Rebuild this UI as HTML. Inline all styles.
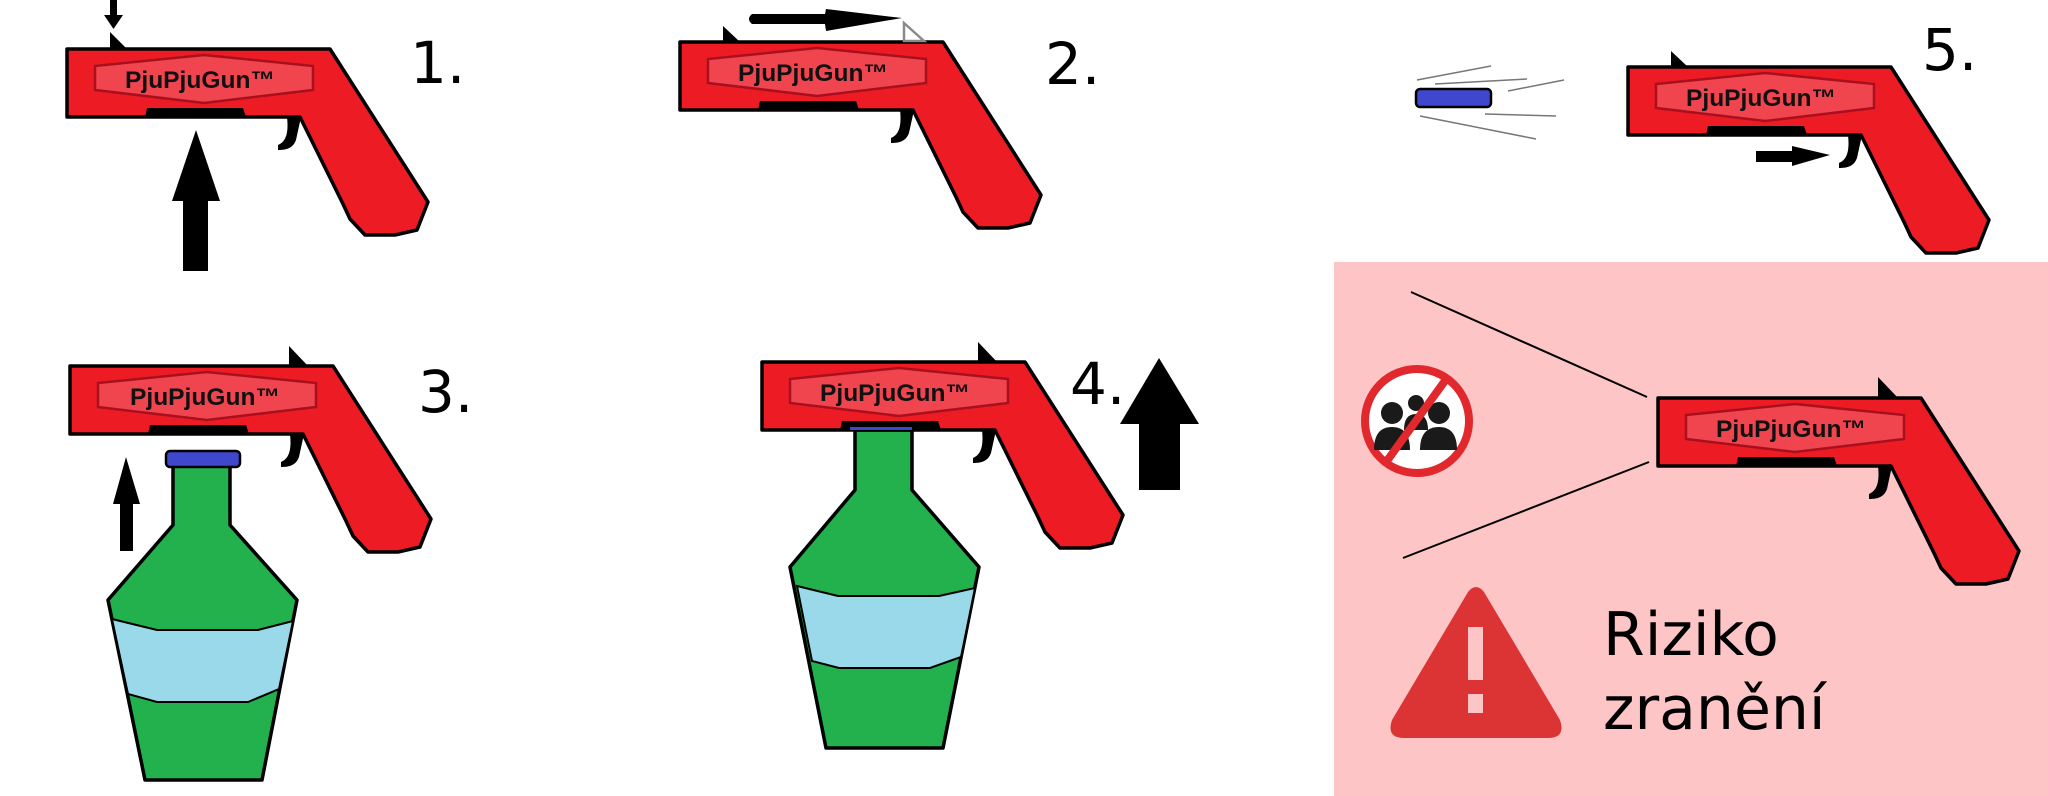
<!DOCTYPE html>
<html><head><meta charset="utf-8"><style>
html,body{margin:0;padding:0;background:#fff;}
svg{display:block;}
.lbl{font-family:"Liberation Sans",sans-serif;font-weight:bold;font-size:24px;fill:#111;}
.num{font-family:"DejaVu Sans","Liberation Sans",sans-serif;font-size:58px;fill:#000;}
</style></head><body>
<svg width="2048" height="796" viewBox="0 0 2048 796" xmlns="http://www.w3.org/2000/svg">
<defs>
<g id="gun">
<path d="M0,0 H263 L361,153 L350,181 L328,186 H298 L283,170 L276,155 L233,68 H0 Z" fill="#ed1c24" stroke="#000" stroke-width="3.5" stroke-linejoin="round"/>
<polygon points="28,17 137,6 246,17 246,41 137,54 28,41" fill="#f0444f" stroke="#a8101e" stroke-width="2.5"/>
<path d="M78,68 L80,59 H176 L179,68 Z" fill="#000"/>
<path d="M220,68 L234,68 L229,91 C226,99 220,101 211,101 L211,96 C218,93 222,86 220,68 Z" fill="#000"/>
</g>
</defs>

<rect x="1334" y="262" width="714" height="534" fill="#fdc5c5"/>

<!-- GUN 1 -->
<polygon points="110,32 110,49 127,49" fill="#000"/>
<use href="#gun" x="67" y="49"/>
<text class="lbl" x="200" y="88" text-anchor="middle" textLength="150" lengthAdjust="spacingAndGlyphs">PjuPjuGun™</text>
<rect x="110" y="0" width="7" height="16" fill="#000"/>
<polygon points="104,15 123,15 113.5,29" fill="#000"/>
<polygon points="196,130 220,201 172,201" fill="#000"/>
<rect x="183" y="200" width="25" height="71" fill="#000"/>
<text class="num" x="410" y="83">1.</text>

<!-- GUN 2 -->
<polygon points="723,26 723,42 740,42" fill="#000"/>
<use href="#gun" x="680" y="42"/>
<text class="lbl" x="813" y="81" text-anchor="middle" textLength="150" lengthAdjust="spacingAndGlyphs">PjuPjuGun™</text>
<path d="M752,14 H825 L826,9 L902,18 L826,31 L825,24 H752 Q746,19 752,14 Z" fill="#000"/>
<polygon points="904,23 904,41 924,41" fill="none" stroke="#8a8a8a" stroke-width="2.5"/>
<text class="num" x="1045" y="84">2.</text>

<!-- GUN 3 -->
<polygon points="289,346 289,366 308,366" fill="#000"/>
<use href="#gun" x="70" y="366"/>
<text class="lbl" x="205" y="405" text-anchor="middle" textLength="150" lengthAdjust="spacingAndGlyphs">PjuPjuGun™</text>
<path d="M173,466 V525 L108,600 L145,780 H262 L297,600 L230,525 V466 Z" fill="#22b14c" stroke="#000" stroke-width="3.5" stroke-linejoin="round"/>
<path d="M112,619 L157,630 H258 L293,621 L279,689 L248,702 H157 L128,694 Z" fill="#99d9ea" stroke="#000" stroke-width="2"/>
<rect x="166" y="451" width="74" height="16" rx="4" fill="#3f48cc" stroke="#000" stroke-width="2.5"/>
<polygon points="126,457 140,504 113,504" fill="#000"/>
<rect x="120" y="503" width="13" height="48" fill="#000"/>
<text class="num" x="418" y="412">3.</text>

<!-- GUN 4 -->
<path d="M855,430 V490 L790,567 L826,748 H943 L979,567 L912,490 V430 Z" fill="#22b14c" stroke="#000" stroke-width="3.5" stroke-linejoin="round"/>
<path d="M797,586 L838,596 H939 L975,588 L961,657 L930,668 H839 L812,661 Z" fill="#99d9ea" stroke="#000" stroke-width="2"/>
<polygon points="978,342 978,364 999,364" fill="#000"/>
<use href="#gun" x="762" y="362"/>
<rect x="850" y="427" width="62" height="3" fill="#3f48cc"/>
<text class="lbl" x="895" y="401" text-anchor="middle" textLength="150" lengthAdjust="spacingAndGlyphs">PjuPjuGun™</text>
<polygon points="1159,358 1199,424 1120,424" fill="#000"/>
<rect x="1139" y="423" width="41" height="67" fill="#000"/>
<text class="num" x="1070" y="404">4.</text>

<!-- GUN 5 -->
<polygon points="1671,51 1671,67 1688,67" fill="#000"/>
<use href="#gun" x="1628" y="67"/>
<text class="lbl" x="1761" y="106" text-anchor="middle" textLength="150" lengthAdjust="spacingAndGlyphs">PjuPjuGun™</text>
<rect x="1416" y="89" width="75" height="18" rx="4" fill="#3f48cc" stroke="#000" stroke-width="2.5"/>
<g stroke="#777" stroke-width="1.5">
<line x1="1417" y1="80" x2="1491" y2="66"/>
<line x1="1435" y1="84" x2="1527" y2="79"/>
<line x1="1508" y1="91" x2="1564" y2="80"/>
<line x1="1420" y1="116" x2="1536" y2="139"/>
<line x1="1485" y1="114" x2="1556" y2="116"/>
</g>
<rect x="1756" y="151" width="38" height="11" fill="#000"/>
<polygon points="1792,146 1830,155 1792,166" fill="#000"/>
<text class="num" x="1922" y="70">5.</text>

<!-- PANEL -->
<line x1="1411" y1="292" x2="1647" y2="397" stroke="#000" stroke-width="2"/>
<line x1="1403" y1="558" x2="1649" y2="462" stroke="#000" stroke-width="2"/>
<polygon points="1878,377 1878,399 1899,399" fill="#000"/>
<use href="#gun" x="1658" y="398"/>
<text class="lbl" x="1791" y="437" text-anchor="middle" textLength="150" lengthAdjust="spacingAndGlyphs">PjuPjuGun™</text>

<circle cx="1417" cy="421" r="52" fill="#fff" stroke="#e0282d" stroke-width="8"/>
<g fill="#1a1a1a">
<circle cx="1416" cy="403" r="8"/>
<path d="M1404,430 Q1404,414 1416,414 Q1428,414 1428,430 Z"/>
<circle cx="1392" cy="413" r="11"/>
<circle cx="1439" cy="413" r="11"/>
<path d="M1374,450 Q1374,427 1392,427 Q1410,427 1410,450 Z"/>
<path d="M1420,450 Q1420,427 1439,427 Q1457,427 1457,450 Z"/>
</g>
<line x1="1447" y1="378" x2="1384" y2="465" stroke="#e0282d" stroke-width="8"/>

<path d="M1468,592 Q1476,582 1484,592 L1560,720 Q1566,738 1548,738 H1404 Q1386,738 1392,720 Z" fill="#dc3434"/>
<rect x="1468" y="627" width="15" height="53" fill="#fdc5c5"/>
<rect x="1468" y="694" width="15" height="19" fill="#fdc5c5"/>
<text class="num" x="1603" y="655" style="font-size:60px">Riziko</text>
<text class="num" x="1603" y="729" style="font-size:60px">zranění</text>
</svg>
</body></html>
